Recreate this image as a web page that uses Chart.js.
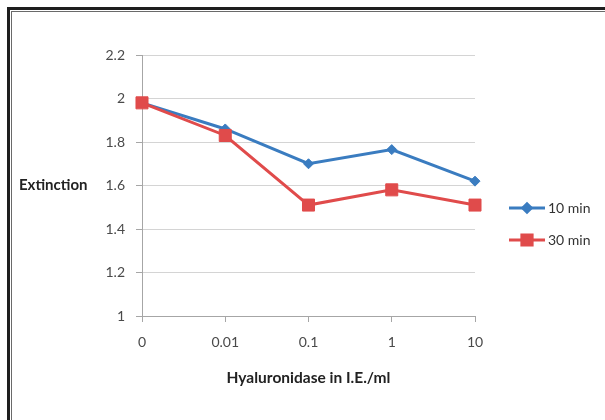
<!DOCTYPE html>
<html>
<head>
<meta charset="utf-8">
<script src="https://cdn.jsdelivr.net/npm/chart.js@4.4.1/dist/chart.umd.min.js"></script>
<style>
  html, body { margin: 0; padding: 0; background: #fff; }
  #wrap { position: relative; width: 605px; height: 420px; overflow: hidden; }
  .frame1 { position: absolute; left: 7px; top: 7px; width: 700px; height: 500px;
            border-left: 3px solid #1e1e1e; border-top: 3px solid #1e1e1e; }
  .frame2 { position: absolute; left: 11px; top: 11px; width: 700px; height: 500px;
            border-left: 1px solid #6a6a6a; border-top: 1px solid #6a6a6a; }
  canvas { position: absolute; left: 0; top: 0; }
</style>
</head>
<body>
<div id="wrap">
  <div class="frame1"></div>
  <div class="frame2"></div>
  <canvas id="chart" width="605" height="420"></canvas>
</div>
<script>
// データ
const categories = ['0', '0.01', '0.1', '1', '10'];
const seriesNames = ['10 min', '30 min'];
const tenMin = [1.98, 1.86, 1.70, 1.765, 1.62];
const thirtyMin = [1.98, 1.83, 1.51, 1.58, 1.51];
const yMin = 1;
const yMax = 2.2;
const yStep = 0.2;
const yTitle = 'Extinction';
const xTitle = 'Hyaluronidase in I.E./ml';

const FONT = 'Lato, "Open Sans", sans-serif';
const AXIS_GREY = '#a6a6a6';

// 横書きのY軸タイトルと凡例 (Excel風) を描くプラグイン
const excelExtras = {
    id: 'excelExtras',
    afterDraw(chart) {
        const ctx = chart.ctx;
        const area = chart.chartArea;
        ctx.save();
        ctx.fillStyle = '#222';
        ctx.font = 'bold 15px ' + FONT;
        ctx.textAlign = 'left';
        ctx.textBaseline = 'middle';
        ctx.fillText(yTitle, 19, (area.top + area.bottom) / 2);

        // 凡例
        chart.data.datasets.forEach((ds, i) => {
            const y = 208 + i * 32;
            ctx.strokeStyle = ds.borderColor;
            ctx.lineWidth = ds.borderWidth;
            ctx.beginPath();
            ctx.moveTo(509, y);
            ctx.lineTo(545, y);
            ctx.stroke();
            ctx.fillStyle = ds.pointBackgroundColor;
            ctx.strokeStyle = ds.pointBorderColor;
            Chart.helpers.drawPoint(ctx, {
                pointStyle: ds.pointStyle,
                radius: ds.pointRadius * 0.85,
                borderWidth: 1,
                rotation: 0
            }, 527, y);
            ctx.fillStyle = '#333';
            ctx.font = '14px ' + FONT;
            ctx.textBaseline = 'middle';
            ctx.fillText(ds.label, 548, y);
        });
        ctx.restore();
    }
};

const context = document.getElementById('chart').getContext('2d');
new Chart(context, {
    type: 'line',
    data: {
        labels: categories,
        datasets: [
            {
                label: seriesNames[0],
                data: tenMin,
                borderColor: '#3a7cc0',
                backgroundColor: '#3a7cc0',
                pointBackgroundColor: '#3a7cc0',
                pointBorderColor: '#3a7cc0',
                borderWidth: 3,
                pointStyle: 'rectRot',
                pointRadius: 5,
                pointBorderWidth: 1,
                tension: 0,
                fill: false,
                order: 1
            },
            {
                label: seriesNames[1],
                data: thirtyMin,
                borderColor: '#e04b4b',
                backgroundColor: '#e04b4b',
                pointBackgroundColor: '#e04b4b',
                pointBorderColor: '#e04b4b',
                borderWidth: 3,
                pointStyle: 'rect',
                pointRadius: 8.5,
                pointBorderWidth: 1,
                tension: 0,
                fill: false,
                order: 0
            }
        ]
    },
    options: {
        responsive: false,
        animation: false,
        layout: { padding: { top: 55, right: 130, bottom: 0, left: 0 } },
        plugins: {
            legend: { display: false },
            tooltip: { enabled: false }
        },
        scales: {
            x: {
                offset: false,
                grid: {
                    drawOnChartArea: false,
                    drawTicks: true,
                    tickLength: 6,
                    tickColor: AXIS_GREY
                },
                border: { color: AXIS_GREY },
                ticks: {
                    padding: 12,
                    color: '#4a4a4a',
                    font: { family: FONT, size: 14 }
                },
                title: {
                    display: true,
                    text: xTitle,
                    color: '#222',
                    font: { family: FONT, size: 15.5, weight: 'bold' },
                    padding: { top: 0, bottom: 33 }
                },
                afterFit: s => { s.height = 104; }
            },
            y: {
                min: yMin,
                max: yMax,
                grid: {
                    color: '#d4d4d4',
                    tickColor: AXIS_GREY,
                    tickLength: 6
                },
                border: { color: AXIS_GREY },
                ticks: {
                    stepSize: yStep,
                    padding: 11,
                    color: '#4a4a4a',
                    font: { family: FONT, size: 14 },
                    // Excelと同じく末尾の0を付けない (2.0 → 2)
                    callback: v => String(Number(v.toFixed(1)))
                },
                afterFit: s => { s.width = 142; }
            }
        }
    },
    plugins: [excelExtras]
});
</script>
</body>
</html>
